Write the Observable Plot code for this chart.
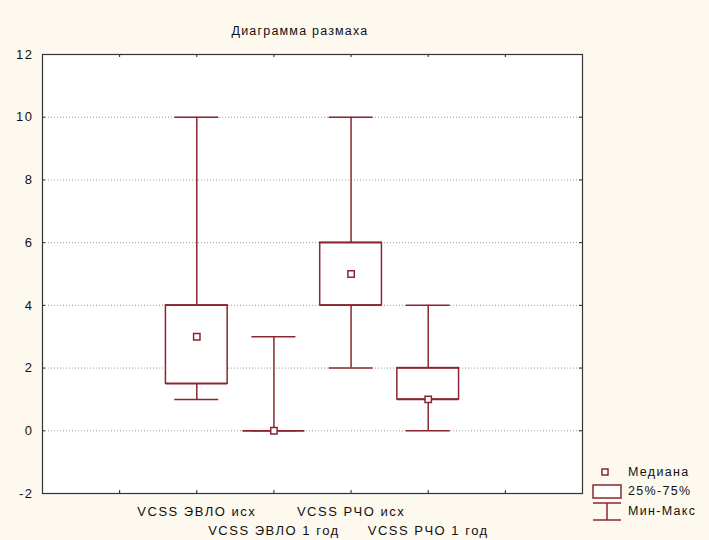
<!DOCTYPE html>
<html>
<head>
<meta charset="utf-8">
<script src="https://cdn.jsdelivr.net/npm/d3@7"></script>
<script src="https://cdn.jsdelivr.net/npm/@observablehq/plot@0.6"></script>
<style>
  html, body { margin: 0; padding: 0; background: #fdf9ef; }
  #wrap { position: relative; width: 709px; height: 540px; background: #fdf9ef; overflow: hidden; }
  #title { position: absolute; left: 0; width: 600px; top: 24px; text-align: center; font: 12.5px "Liberation Sans", Arial, sans-serif; letter-spacing: 1.2px; color: #111; }
  #legend { position: absolute; left: 0; top: 0; }
  #legend text { font: 12.5px "Liberation Sans", Arial, sans-serif; letter-spacing: 1.3px; fill: #111; }
</style>
</head>
<body>
<div id="wrap">
  <div id="chart"></div>
  <div id="title">Диаграмма размаха</div>
</div>
<script>
// Data
const categories = ["VCSS ЭВЛО исх", "VCSS ЭВЛО 1 год", "VCSS РЧО исх", "VCSS РЧО 1 год"];
const positions  = [2, 3, 4, 5];
const minValues  = [1, 0, 2, 0];
const q1Values   = [1.5, 0, 4, 1];
const medians    = [3, 0, 5, 1];
const q3Values   = [4, 0, 6, 2];
const maxValues  = [10, 3, 10, 4];
const yTicks = [-2, 0, 2, 4, 6, 8, 10, 12];
const xTicks = [1, 2, 3, 4, 5, 6];
const legendLabels = ["Медиана", "25%-75%", "Мин-Макс"];

const data = categories.map((c, i) => ({
  name: c, pos: positions[i], row: i % 2,
  min: minValues[i], q1: q1Values[i], med: medians[i], q3: q3Values[i], max: maxValues[i]
}));

const col = "#8b2630";
const boxHalf = 0.4, capHalf = 0.285;
const W = 709, H = 540, ml = 42, mr = 127, mt = 54, mb = 47;
const innerH = H - mt - mb, innerW = W - ml - mr;

const chart = Plot.plot({
  width: W, height: H,
  marginLeft: ml, marginRight: mr, marginTop: mt, marginBottom: mb,
  style: { background: "transparent", fontFamily: "'Liberation Sans', Arial, sans-serif", fontSize: "13px", color: "#111" },
  x: { type: "linear", domain: [0, 7], axis: null },
  y: { domain: [-2, 12], axis: null },
  marks: [
    Plot.frame({ fill: "white", stroke: "none" }),
    Plot.gridY(yTicks.filter(d => d > -2 && d < 12), { stroke: "#9a9a9a", strokeOpacity: 1, strokeDasharray: "1,2" }),
    // inner ticks
    Plot.ruleX(xTicks, { x: d => d, insetTop: innerH - 3, stroke: "#222" }),
    Plot.ruleX(xTicks, { x: d => d, insetBottom: innerH - 3, stroke: "#222" }),
    Plot.ruleY(yTicks, { y: d => d, insetRight: innerW - 3, stroke: "#222" }),
    Plot.ruleY(yTicks, { y: d => d, insetLeft: innerW - 3, stroke: "#222" }),
    Plot.axisY({ ticks: yTicks, tickSize: 0, tickPadding: 9, tickFormat: d => String(d), fontSize: 13, style: { letterSpacing: "1.5px" } }),
    // whiskers
    Plot.ruleX(data, { x: "pos", y1: "min", y2: "max", stroke: col, strokeWidth: 1.5 }),
    Plot.ruleY(data, { y: "min", x1: d => d.pos - capHalf, x2: d => d.pos + capHalf, stroke: col, strokeWidth: 1.5 }),
    Plot.ruleY(data, { y: "max", x1: d => d.pos - capHalf, x2: d => d.pos + capHalf, stroke: col, strokeWidth: 1.5 }),
    // boxes
    Plot.rect(data, { x1: d => d.pos - boxHalf, x2: d => d.pos + boxHalf, y1: "q1", y2: "q3", fill: "white", stroke: col, strokeWidth: 1.5 }),
    Plot.ruleY(data, { y: "q1", x1: d => d.pos - boxHalf, x2: d => d.pos + boxHalf, stroke: col, strokeWidth: 1.5 }),
    Plot.ruleY(data, { y: "q3", x1: d => d.pos - boxHalf, x2: d => d.pos + boxHalf, stroke: col, strokeWidth: 1.5 }),
    // medians
    Plot.dot(data, { x: "pos", y: "med", symbol: "square", r: 3.6, fill: "white", stroke: col, strokeWidth: 1.5 }),
    Plot.frame({ stroke: "#333", strokeWidth: 1.2 }),
    // category labels (staggered)
    Plot.text(data.filter(d => d.row === 0), { x: "pos", text: "name", frameAnchor: "bottom", dy: 18, lineAnchor: "middle", fontSize: 13, fill: "#111", style: "letter-spacing:1.5px" }),
    Plot.text(data.filter(d => d.row === 1), { x: "pos", text: "name", frameAnchor: "bottom", dy: 37, lineAnchor: "middle", fontSize: 13, fill: "#111" })
  ]
});
chart.querySelectorAll("text").forEach(t => t.style.letterSpacing = "1.5px");
document.getElementById("chart").appendChild(chart);

// Legend
const ns = "http://www.w3.org/2000/svg";
const leg = d3.select("#wrap").append("svg").attr("id", "legend").attr("width", W).attr("height", H);
const lx = 593, lw = 28;
leg.append("rect").attr("x", 602).attr("y", 469).attr("width", 6).attr("height", 6)
  .attr("fill", "white").attr("stroke", col).attr("stroke-width", 1.5);
leg.append("rect").attr("x", lx).attr("y", 485).attr("width", lw).attr("height", 13)
  .attr("fill", "white").attr("stroke", col).attr("stroke-width", 1.5);
leg.append("line").attr("x1", lx).attr("x2", lx + lw).attr("y1", 503).attr("y2", 503).attr("stroke", col).attr("stroke-width", 1.5);
leg.append("line").attr("x1", lx).attr("x2", lx + lw).attr("y1", 520).attr("y2", 520).attr("stroke", col).attr("stroke-width", 1.5);
leg.append("line").attr("x1", lx + lw / 2).attr("x2", lx + lw / 2).attr("y1", 503).attr("y2", 520).attr("stroke", col).attr("stroke-width", 1.5);
const ly = [472, 491, 511];
legendLabels.forEach((t, i) => {
  leg.append("text").attr("x", 628).attr("y", ly[i]).attr("dy", "0.35em").text(t);
});
</script>
</body>
</html>
